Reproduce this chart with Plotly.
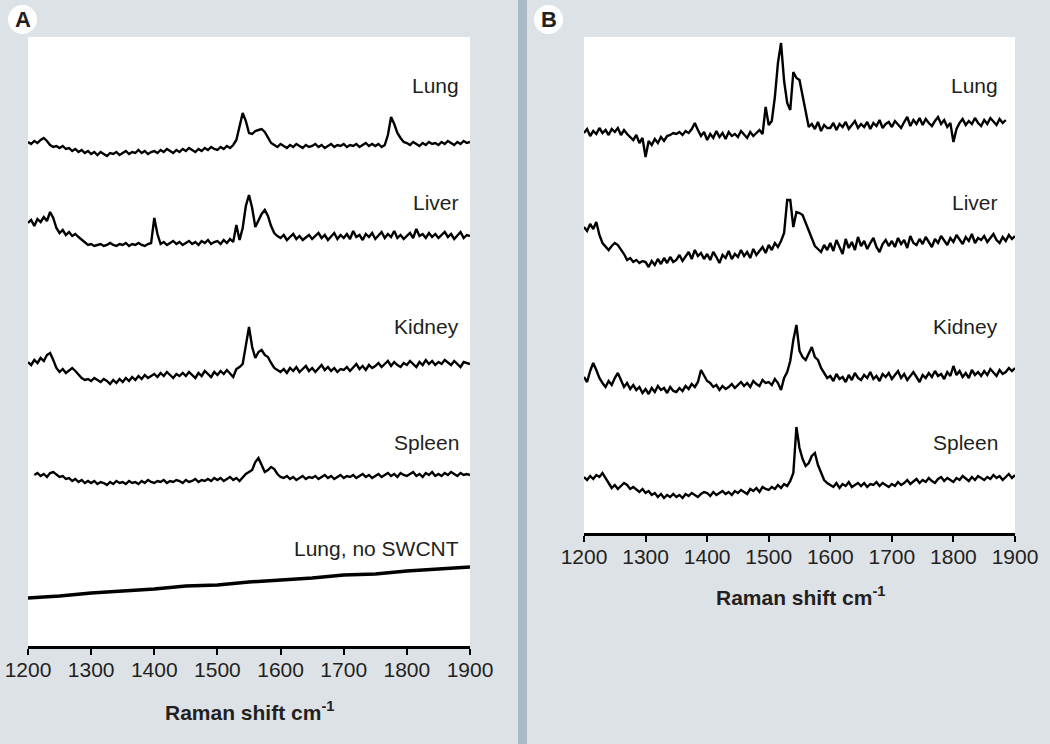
import plotly.graph_objects as go

# ---------------- data ----------------
WAVENUMBERS = list(range(1200, 1901, 5))
TICK_VALUES = [1200, 1300, 1400, 1500, 1600, 1700, 1800, 1900]
X_TITLE = "Raman shift cm<sup>-1</sup>"

# Panel A (intensity, arbitrary offset units)
A_LUNG = [
    504, 502, 505, 503, 506, 508, 505, 501, 499, 500,
    498, 500, 497, 498, 495, 497, 494, 496, 493, 495,
    492, 494, 491, 494, 492, 490, 493, 492, 494, 491,
    493, 495, 492, 494, 493, 496, 493, 495, 492, 494,
    495, 493, 496, 494, 497, 495, 493, 496, 494, 497,
    495, 498, 496, 494, 497, 495, 498, 496, 499, 497,
    496, 499, 497, 500, 498, 501, 506, 521, 533, 525,
    513, 512, 515, 516, 517, 514, 508, 503, 501, 499,
    502, 500, 498, 501, 499, 502, 500, 498, 501, 499,
    500, 502, 499, 501, 498, 500, 502, 499, 501, 500,
    502, 499, 501, 500, 502, 499, 501, 503, 500, 502,
    500, 502, 499, 501, 511, 529, 522, 513, 508, 504,
    503, 501, 504, 502, 500, 503, 501, 504, 502, 503,
    501, 504, 502, 505, 503, 501, 504, 502, 505, 503,
    504,
]
A_LIVER = [
    423, 426, 420, 427, 424, 429, 425, 434, 428, 418,
    413, 416, 411, 414, 410, 412, 409, 406, 403, 401,
    402, 400, 401, 402, 400, 401, 403, 401, 400, 402,
    401, 403, 400, 402, 401, 403, 401, 400, 402, 403,
    428, 412, 402, 404, 401, 403, 405, 402, 404, 401,
    403, 405, 402, 404, 401, 405, 403, 406, 402, 404,
    405, 402, 406, 403, 407, 404, 421, 406, 418, 440,
    451, 438, 419, 425, 432, 436, 430, 420, 413, 410,
    408, 411, 406, 409, 412, 407, 410, 406, 409, 411,
    407, 410, 413, 408, 411, 406, 410, 413, 407, 411,
    408, 412, 407, 415, 409, 411, 406, 412, 409, 413,
    407, 411, 414, 408, 412, 409, 415, 408, 411, 407,
    410, 413, 408, 417, 410, 412, 408, 413, 409, 412,
    408, 411, 414, 409, 412, 407, 411, 414, 408, 411,
    410,
]
A_KIDNEY = [
    284, 281, 286, 283, 288, 285, 291, 293, 286, 278,
    274, 277, 273, 276, 278, 275, 271, 268, 266, 267,
    265, 268, 266, 264, 267, 265, 262, 266, 263, 267,
    264, 268, 265, 269, 266, 270, 267, 271, 268, 270,
    272, 269, 273, 270, 274, 271, 268, 272, 270, 273,
    270, 274, 271, 268, 273, 270, 275, 272, 269, 274,
    271, 275, 272, 276, 273, 269, 277, 279, 282, 300,
    319, 299, 288, 294, 296, 291, 289, 283, 278, 276,
    274, 277, 273, 278, 275, 279, 274, 277, 280, 275,
    278, 274, 277, 281, 276, 279, 275, 278, 274, 277,
    276, 279, 275, 278, 282, 277, 280, 276, 281, 278,
    280, 283, 279, 282, 285, 280, 284, 281, 279, 283,
    281, 285, 282, 279, 284, 281, 286, 282, 285, 281,
    284, 282, 286, 283, 281, 285, 282, 279, 284, 283,
    282,
]
A_SPLEEN = [
    None, None, 171, 173, 170, 172, 169, 173, 174, 171,
    169, 170, 167, 168, 165, 167, 164, 166, 163, 165,
    163, 165, 162, 164, 163, 161, 164, 162, 165, 163,
    164, 162, 165, 163, 164, 162, 165, 163, 166, 164,
    163, 165, 164, 166, 163, 165, 164, 166, 165, 163,
    166, 164, 165, 167, 164, 166, 165, 167, 165, 168,
    166, 168, 165, 167, 169, 166, 168, 165, 169, 172,
    174, 176, 184, 188, 181, 174, 176, 179, 177, 172,
    169, 168, 170, 167, 169, 166, 168, 170, 167, 169,
    168, 170, 167, 169, 171, 168, 170, 167, 169, 171,
    168, 170, 169, 171, 168, 170, 172, 169, 171, 168,
    170, 172, 169, 171, 173, 170, 172, 169, 173, 171,
    170, 172, 174, 170, 172, 169, 173, 171, 174, 170,
    172, 170, 173, 171, 174, 172, 170, 173, 171, 172,
    171,
]
A_NO_SWCNT_X = [1200, 1250, 1300, 1350, 1400, 1450, 1500, 1550,
                1600, 1650, 1700, 1750, 1800, 1850, 1900]
A_NO_SWCNT = [48, 50, 53, 55, 57, 60, 61, 64, 66, 68, 71, 72, 75, 77, 79]

# Panel B
B_LUNG = [
    400, 404, 397, 402, 399, 405, 400, 403, 398, 404,
    401, 405, 398, 403, 399, 396, 393, 398, 390, 395,
    376, 392, 388, 394, 390, 396, 392, 397, 398, 400,
    399, 401, 398, 402, 400, 404, 410, 403, 397, 401,
    393, 399, 395, 402, 396, 400, 394, 401, 397, 399,
    396, 402, 398, 395, 401, 397, 400, 403, 399, 426,
    408, 412, 436, 470, 490, 452, 430, 423, 461, 455,
    453, 438, 420, 406, 409, 404, 411, 402, 408, 405,
    405, 410, 403, 409, 406, 411, 404, 408, 412, 405,
    409, 406, 411, 404, 410, 407, 413, 405, 409, 411,
    406, 412, 408, 405, 411, 416, 407, 413, 409, 415,
    408, 414, 410, 407, 412, 416, 409, 413, 406, 410,
    391, 404, 410, 414, 408, 412, 409, 415, 410, 407,
    413, 409, 415, 411, 408, 414, 410, 413, None, None,
    None,
]
B_LIVER = [
    306, 302, 309, 304, 311, 298, 290, 286, 283, 287,
    290, 288, 284, 279, 273, 275, 271, 273, 270, 272,
    271, 266, 272, 268, 274, 269, 275, 270, 276, 271,
    273, 278, 272, 276, 281, 274, 283, 277, 280, 274,
    279, 273, 281, 276, 270, 278, 275, 282, 274, 279,
    276, 283, 277, 281, 275, 284, 278, 282, 286, 280,
    288, 283, 290, 286, 292, 300, 333, 333, 306, 321,
    320, 318, 310, 302, 293, 287, 284, 281, 288, 283,
    290, 282, 293, 286, 279, 294, 285, 291, 283, 296,
    287, 292, 284, 290, 295, 286, 281, 289, 293, 287,
    292, 286, 295, 289, 293, 285, 297, 290, 288, 294,
    289, 296, 291, 286, 294, 290, 297, 292, 288, 295,
    291, 298, 293, 289, 296, 292, 299, 290, 295, 293,
    297, 291, 295, 299, 293, 290, 296, 292, 298, 294,
    297,
]
B_KIDNEY = [
    156, 151, 162, 170, 163, 155, 150, 146, 152, 148,
    155, 160, 153, 146, 150, 144, 148, 143, 146, 140,
    144, 139, 145, 141, 147, 143, 145, 140, 146, 142,
    141, 145, 142, 147, 144, 149, 146, 151, 163, 158,
    152, 150, 146, 148, 143, 147, 144, 146, 149, 145,
    148, 151, 147, 150, 146, 152, 149, 147, 153, 150,
    151, 148, 154, 150, 143, 155, 161, 172, 193, 208,
    182, 176, 173, 180, 186, 176, 173, 165, 160, 155,
    157, 152, 159, 154, 156, 151, 158, 153, 160, 155,
    153, 158, 155, 161, 154, 157, 152, 159, 156, 160,
    154, 158, 162, 155, 159, 153, 157, 161, 156, 151,
    158, 155, 160, 156, 162, 157, 159, 154, 161, 157,
    167, 158, 162, 156, 160, 155, 163, 158, 161, 157,
    162, 158, 164, 160, 157, 163, 159, 161, 165, 162,
    165,
]
B_SPLEEN = [
    56, 53, 57, 54, 58, 56, 60, 55, 49, 45,
    48, 44, 47, 50, 48, 44, 46, 43, 41, 44,
    40, 42, 38, 40, 36, 39, 35, 38, 36, 39,
    36, 38, 35, 39, 37, 40, 38, 36, 39, 41,
    40, 37, 41, 38, 40, 42, 39, 41, 38, 42,
    40, 43, 41, 39, 44, 42, 45, 41, 46, 44,
    43, 46, 44, 48, 45, 49, 47, 52, 60, 106,
    85, 74, 67, 70, 77, 80, 68, 60, 53, 50,
    48, 46, 50, 45, 49, 47, 51, 46, 48, 50,
    47, 50, 46, 49, 48, 51, 47, 50, 48, 46,
    49, 47, 51, 48, 50, 53, 49, 52, 54, 50,
    53, 51, 55, 52, 50, 54, 56, 52, 55, 53,
    51, 55, 53, 57, 54, 52, 56, 53, 57, 55,
    53, 56, 54, 58, 55, 57, 53, 56, 59, 55,
    58,
]

A_LABELS = ["Lung", "Liver", "Kidney", "Spleen", "Lung, no SWCNT"]
A_LABEL_Y = [560, 443, 319, 203, 98]
B_LABELS = ["Lung", "Liver", "Kidney", "Spleen"]
B_LABEL_Y = [447, 330, 206, 90]

# ---------------- figure ----------------
W, H = 1050, 744
BG = "#dde2e7"
FONT = "Liberation Sans, Arial, Helvetica, sans-serif"

def px(x):
    return x / W

def py(y):
    return (H - y) / H

fig = go.Figure()

for ys in [A_LUNG, A_LIVER, A_KIDNEY, A_SPLEEN]:
    fig.add_trace(go.Scatter(x=WAVENUMBERS, y=ys, mode="lines",
                             line=dict(color="black", width=2.4),
                             connectgaps=False, showlegend=False,
                             hoverinfo="skip", xaxis="x", yaxis="y"))
fig.add_trace(go.Scatter(x=A_NO_SWCNT_X, y=A_NO_SWCNT, mode="lines",
                         line=dict(color="black", width=3.4),
                         showlegend=False, hoverinfo="skip",
                         xaxis="x", yaxis="y"))
for ys in [B_LUNG, B_LIVER, B_KIDNEY, B_SPLEEN]:
    fig.add_trace(go.Scatter(x=WAVENUMBERS, y=ys, mode="lines",
                             line=dict(color="black", width=2.4),
                             connectgaps=False, showlegend=False,
                             hoverinfo="skip", xaxis="x2", yaxis="y2"))

axis_common = dict(
    range=[1200, 1900], tickvals=TICK_VALUES, ticks="outside",
    ticklen=6, tickwidth=2, tickcolor="black",
    showline=True, linewidth=2.5, linecolor="black",
    showgrid=False, zeroline=False, fixedrange=True, automargin=False,
    tickfont=dict(family=FONT, size=21, color="#231f20"),
    ticklabelstandoff=-3,
)

fig.update_layout(
    width=W, height=H, autosize=False,
    margin=dict(l=0, r=0, t=0, b=0, pad=0, autoexpand=False),
    paper_bgcolor=BG, plot_bgcolor="white",
    xaxis=dict(domain=[px(28), px(470)], anchor="y", **axis_common),
    yaxis=dict(domain=[py(646), py(37)], range=[0, 609], visible=False,
               fixedrange=True, anchor="x", automargin=False),
    xaxis2=dict(domain=[px(584), px(1015)], anchor="y2", **axis_common),
    yaxis2=dict(domain=[py(533), py(37)], range=[0, 496], visible=False,
                fixedrange=True, anchor="x2", automargin=False),
    shapes=[
        dict(type="rect", xref="paper", yref="paper",
             x0=px(518), x1=px(527), y0=0, y1=1,
             fillcolor="#aab9c6", line=dict(width=0), layer="below"),
        dict(type="rect", xref="paper", yref="paper",
             x0=px(28), x1=px(470), y0=py(646), y1=py(37),
             fillcolor="white", line=dict(width=0), layer="below"),
        dict(type="rect", xref="paper", yref="paper",
             x0=px(584), x1=px(1015), y0=py(533), y1=py(37),
             fillcolor="white", line=dict(width=0), layer="below"),
        dict(type="circle", xref="paper", yref="paper",
             x0=px(8), x1=px(37), y0=py(34), y1=py(5),
             fillcolor="white", line=dict(width=0)),
        dict(type="circle", xref="paper", yref="paper",
             x0=px(534), x1=px(563), y0=py(34), y1=py(5),
             fillcolor="white", line=dict(width=0)),
    ],
)

annotations = []
for txt, yv in zip(A_LABELS, A_LABEL_Y):
    annotations.append(dict(x=1885, y=yv, xref="x", yref="y", text=txt,
                            showarrow=False, xanchor="right", yanchor="middle",
                            font=dict(family=FONT, size=21, color="#231f20")))
for txt, yv in zip(B_LABELS, B_LABEL_Y):
    annotations.append(dict(x=1876, y=yv, xref="x2", yref="y2", text=txt,
                            showarrow=False, xanchor="right", yanchor="middle",
                            font=dict(family=FONT, size=21, color="#231f20")))
annotations += [
    dict(x=px(249), y=py(711), xref="paper", yref="paper", text=X_TITLE,
         showarrow=False, xanchor="center", yanchor="middle",
         font=dict(family=FONT, size=21, color="#231f20", weight="bold")),
    dict(x=px(800), y=py(596), xref="paper", yref="paper", text=X_TITLE,
         showarrow=False, xanchor="center", yanchor="middle",
         font=dict(family=FONT, size=21, color="#231f20", weight="bold")),
    dict(x=px(22.5), y=py(19.5), xref="paper", yref="paper", text="<b>A</b>",
         showarrow=False, xanchor="center", yanchor="middle",
         font=dict(family=FONT, size=22, color="#231f20")),
    dict(x=px(548.5), y=py(19.5), xref="paper", yref="paper", text="<b>B</b>",
         showarrow=False, xanchor="center", yanchor="middle",
         font=dict(family=FONT, size=22, color="#231f20")),
]
fig.update_layout(annotations=annotations)

fig.write_html(
    "out.html",
    config={"displayModeBar": False, "staticPlot": True},
    post_script="document.body.style.margin='0';document.body.style.overflow='hidden';",
)
